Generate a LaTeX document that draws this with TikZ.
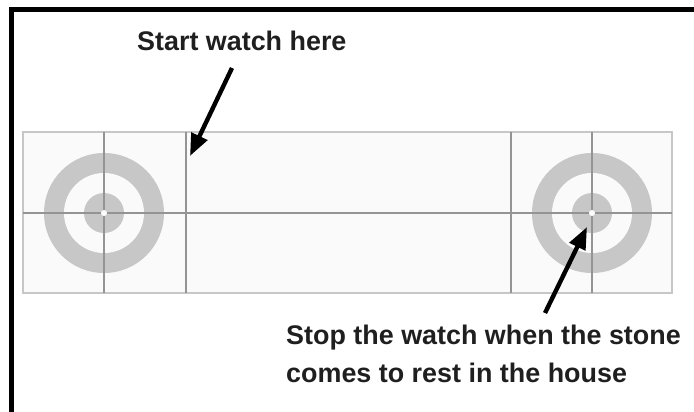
\documentclass[tikz,border=0pt]{standalone}
\usepackage{fontspec}
\setmainfont{Liberation Sans}
\usepackage{tikz}
\usetikzlibrary{arrows.meta}
\tikzset{
  sheet/.style = {fill=black!2, draw=black!22, line width=1.2pt},
  iceline/.style = {draw=black!42, line width=1.6pt},
  ring/.style  = {fill=black!22},
  hole/.style  = {fill=black!2},
  ar/.style    = {-{Triangle[length=22pt, width=17pt]}, line width=4.4pt},
  lbl/.style   = {font=\bfseries\fontsize{26.9}{37.5}\selectfont, inner sep=0pt, align=left, text=black!88},
}
\begin{document}
\begin{tikzpicture}[x=1pt, y=-1pt]
    \useasboundingbox (0,0) rectangle (694,412);
    \draw[line width=5pt] (11.5,412) -- (11.5,9.5) -- (694,9.5);
    \draw[sheet] (23,132) rectangle (672,293);
    \foreach \cx in {104,592} {
      \fill[ring] (\cx,213) circle [radius=60];
      \fill[hole] (\cx,213) circle [radius=40];
      \fill[ring] (\cx,213) circle [radius=20];
    }
    \foreach \lx in {104,186,511,592}
      \draw[iceline] (\lx,132) -- (\lx,293);
    \draw[iceline] (23,213) -- (672,213);
    \foreach \cx in {104,592}
      \fill[white] (\cx,213) circle [radius=3];
    \node[lbl, anchor=base west] (start) at (137,50.5) {Start watch here};
    \node[lbl, anchor=north west] (stop) at (286,325) {Stop the watch when the stone\\comes to rest in the house};
    \coordinate (starttail) at (232,68);
    \coordinate (hog) at (190,156);
    \coordinate (stoptail) at (545,313);
    \coordinate (button) at (587,227);
    \draw[ar] (starttail) -- (hog);
    \draw[ar] (stoptail) -- (button);
  \end{tikzpicture}
\end{document}
